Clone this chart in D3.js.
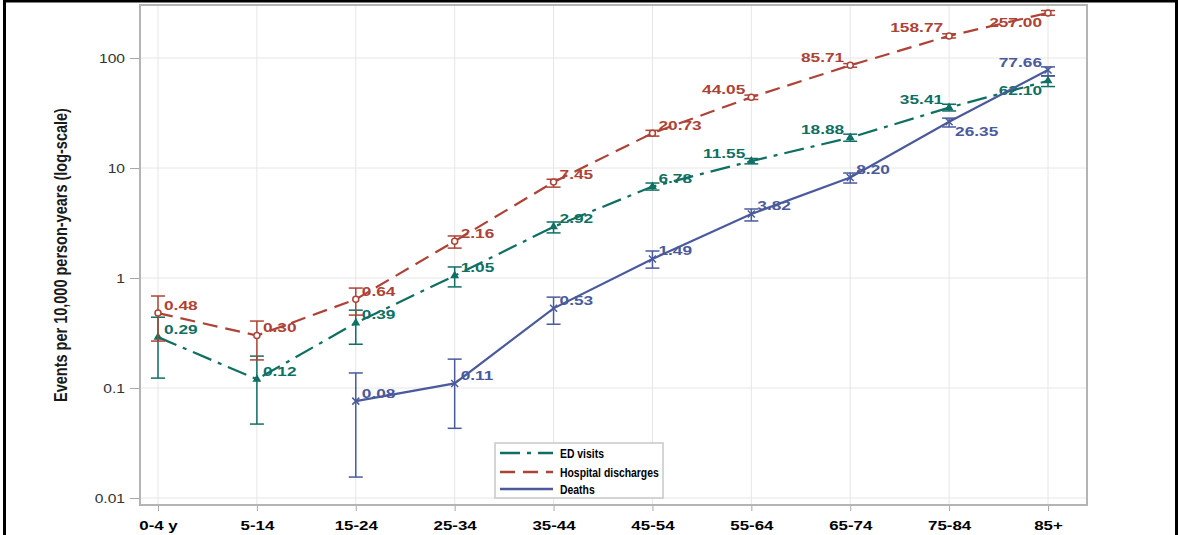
<!DOCTYPE html>
<html>
<head>
<meta charset="utf-8">
<script src="https://cdn.jsdelivr.net/npm/d3@7"></script>
<style>
  body { margin: 0; background: #fff; }
  svg { display: block; }
</style>
</head>
<body>
<div class="chart"></div>
<script>
// age groups along the x axis
const ageGroups = ["0-4 y", "5-14", "15-24", "25-34", "35-44", "45-54", "55-64", "65-74", "75-84", "85+"]

// rates per 10,000 person-years, with lower / upper confidence limits
const edVisits = [0.29, 0.12, 0.39, 1.05, 2.92, 6.78, 11.55, 18.88, 35.41, 62.10]
const edLow = [0.123, 0.047, 0.25, 0.83, 2.57, 6.3, 10.9, 17.5, 33.0, 55.0]
const edHigh = [0.44, 0.195, 0.51, 1.26, 3.23, 7.3, 12.2, 20.3, 38.0, 69.0]

const hospDischarges = [0.48, 0.30, 0.64, 2.16, 7.45, 20.73, 44.05, 85.71, 158.77, 257.00]
const hospLow = [0.267, 0.18, 0.46, 1.87, 6.7, 19.5, 42.0, 82.5, 152.0, 245.0]
const hospHigh = [0.686, 0.406, 0.81, 2.41, 7.9, 22.0, 46.0, 89.0, 166.0, 270.0]

const deaths = [null, null, 0.076, 0.11, 0.53, 1.49, 3.82, 8.20, 26.35, 77.66]
const deathsLow = [null, null, 0.0155, 0.043, 0.38, 1.23, 3.3, 7.3, 23.6, 68.6]
const deathsHigh = [null, null, 0.137, 0.183, 0.67, 1.76, 4.24, 9.0, 28.4, 83.0]

const yTicks = [0.01, 0.1, 1, 10, 100]
const yTickLabels = ["0.01", "0.1", "1", "10", "100"]
const legendLabels = ["ED visits", "Hospital discharges", "Deaths"]

const width = 1180
const height = 535
const frame = { left: 140, right: 1087, top: 5, bottom: 505 }

const svg = d3.select(".chart")
    .append("svg")
    .attr("width", width)
    .attr("height", height)
    .style("font-family", "'Liberation Sans', Arial, sans-serif")

// outer black border (bottom edge falls outside the picture)
svg.append("path")
    .attr("d", `M4.5,${height + 5} V1 H1176.5 V${height + 5}`)
    .attr("fill", "none")
    .attr("stroke", "#000")
    .attr("stroke-width", 3)

const x = d3.scalePoint()
    .domain(ageGroups)
    .range([158, 1048])

// log axis: one decade = 110px, 0.01 sits 7px above the frame bottom
const y = d3.scaleLog()
    .domain([Math.pow(10, -2 - 7 / 110), Math.pow(10, 2 + 53 / 110)])
    .range([frame.bottom, frame.top])

// grid
const grid = svg.append("g")
grid.selectAll(".vg")
    .data(ageGroups)
    .join("line")
    .attr("x1", d => x(d)).attr("x2", d => x(d))
    .attr("y1", frame.top).attr("y2", frame.bottom)
    .attr("stroke", "#e6e6e6")
grid.selectAll(".hg")
    .data(yTicks)
    .join("line")
    .attr("x1", frame.left).attr("x2", frame.right)
    .attr("y1", d => y(d)).attr("y2", d => y(d))
    .attr("stroke", "#e6e6e6")

// axes
const yAxis = svg.append("g")
    .attr("transform", `translate(${frame.left},0)`)
    .call(d3.axisLeft(y).tickValues(yTicks)
        .tickFormat((d, i) => yTickLabels[i]).tickSize(10).tickPadding(2))
yAxis.select(".domain").remove()
yAxis.selectAll("line").attr("stroke", "#a8a8a8")
yAxis.selectAll("text")
    .attr("transform", "scale(1.25,1)")
    .attr("font-size", 12.5)
    .attr("fill", "#333")
    .attr("font-family", "'Liberation Sans', Arial, sans-serif")

const xAxis = svg.append("g")
    .attr("transform", `translate(0,${frame.bottom})`)
    .call(d3.axisBottom(x).tickSize(6).tickPadding(10))
xAxis.select(".domain").remove()
xAxis.selectAll("line").attr("stroke", "#a8a8a8")
xAxis.selectAll("text")
    .attr("transform", "scale(1.3,1)")
    .attr("font-size", 13)
    .attr("font-weight", "bold")
    .attr("fill", "#000")
    .attr("font-family", "'Liberation Sans', Arial, sans-serif")

svg.append("text")
    .attr("transform", "translate(67,255) rotate(-90) scale(1,1.3)")
    .attr("text-anchor", "middle")
    .attr("font-size", 14.5)
    .attr("font-weight", "bold")
    .attr("fill", "#1a1a1a")
    .text("Events per 10,000 person-years (log-scale)")

// frame
svg.append("rect")
    .attr("x", frame.left).attr("y", frame.top)
    .attr("width", frame.right - frame.left)
    .attr("height", frame.bottom - frame.top)
    .attr("fill", "none")
    .attr("stroke", "#b4b4b4")
    .attr("stroke-width", 2)

// label placement: default is right and above the point
const labelPos = {
    ed: { 6: "nw", 7: "nw", 8: "nw", 9: "sw" },
    hosp: { 6: "nw", 7: "nw", 8: "nw", 9: "sw" },
    deaths: { 8: "se", 9: "nw" }
}

const series = [
    { key: "ed", values: edVisits, low: edLow, high: edHigh, color: "#0f6f63", dash: "20,7,4,7", marker: "triangle" },
    { key: "hosp", values: hospDischarges, low: hospLow, high: hospHigh, color: "#ad4337", dash: "15,8", marker: "circle" },
    { key: "deaths", values: deaths, low: deathsLow, high: deathsHigh, color: "#4a5a9c", dash: null, marker: "x" }
]

const line = d3.line()
    .defined(d => d.v != null)
    .x(d => x(d.cat))
    .y(d => y(d.v))

series.forEach(s => {
    const pts = ageGroups.map((cat, i) => ({ cat, i, v: s.values[i], lo: s.low[i], hi: s.high[i] }))
        .filter(d => d.v != null)
    const g = svg.append("g")

    // error bars
    const eb = g.selectAll(".eb").data(pts).join("g")
        .attr("stroke", s.color).attr("stroke-width", 1.5).attr("fill", "none")
    eb.append("line")
        .attr("x1", d => x(d.cat)).attr("x2", d => x(d.cat))
        .attr("y1", d => y(d.lo)).attr("y2", d => y(d.hi))
    eb.append("line")
        .attr("x1", d => x(d.cat) - 7).attr("x2", d => x(d.cat) + 7)
        .attr("y1", d => y(d.lo)).attr("y2", d => y(d.lo))
    eb.append("line")
        .attr("x1", d => x(d.cat) - 7).attr("x2", d => x(d.cat) + 7)
        .attr("y1", d => y(d.hi)).attr("y2", d => y(d.hi))

    g.append("path")
        .datum(pts)
        .attr("d", line)
        .attr("fill", "none")
        .attr("stroke", s.color)
        .attr("stroke-width", 2.2)
        .attr("stroke-dasharray", s.dash)

    // markers
    const m = g.selectAll(".mk").data(pts).join("g")
        .attr("transform", d => `translate(${x(d.cat)},${y(d.v)})`)
    if (s.marker === "circle") {
        m.append("circle").attr("r", 3).attr("fill", "#fff")
            .attr("stroke", s.color).attr("stroke-width", 1.5)
    } else if (s.marker === "triangle") {
        m.append("path").attr("d", d3.symbol(d3.symbolTriangle, 34))
            .attr("fill", s.color)
    } else {
        m.append("path").attr("d", "M-3.5,-3.5L3.5,3.5M-3.5,3.5L3.5,-3.5")
            .attr("stroke", s.color).attr("stroke-width", 1.5)
    }

    // data labels
    g.selectAll(".lbl").data(pts).join("text")
        .attr("transform", d => {
            const pos = labelPos[s.key][d.i] || "ne"
            const dx = pos.endsWith("w") ? -6 : 6
            const dy = pos.startsWith("s") ? 14.5 : -3.5
            return `translate(${x(d.cat) + dx},${y(d.v) + dy}) scale(1.28,1)`
        })
        .attr("text-anchor", d => (labelPos[s.key][d.i] || "ne").endsWith("w") ? "end" : "start")
        .attr("font-size", 13.5)
        .attr("font-weight", "bold")
        .attr("fill", s.color)
        .text(d => d.v.toFixed(2))
})

// legend
const legend = svg.append("g").attr("transform", "translate(495,443)")
legend.append("rect")
    .attr("width", 168).attr("height", 55)
    .attr("fill", "#fff")
    .attr("stroke", "#c8c8c8")
    .attr("stroke-width", 1.5)
const items = legend.selectAll(".item")
    .data(series)
    .join("g")
    .attr("transform", (d, i) => `translate(0,${[10, 29, 46][i]})`)
items.append("line")
    .attr("x1", 5).attr("x2", 58)
    .attr("stroke", d => d.color)
    .attr("stroke-width", 2.5)
    .attr("stroke-dasharray", d => d.dash)
items.append("text")
    .attr("transform", "translate(65,5) scale(0.8,1)")
    .attr("font-size", 13)
    .attr("font-weight", "bold")
    .attr("fill", "#000")
    .text((d, i) => legendLabels[i])
</script>
</body>
</html>
